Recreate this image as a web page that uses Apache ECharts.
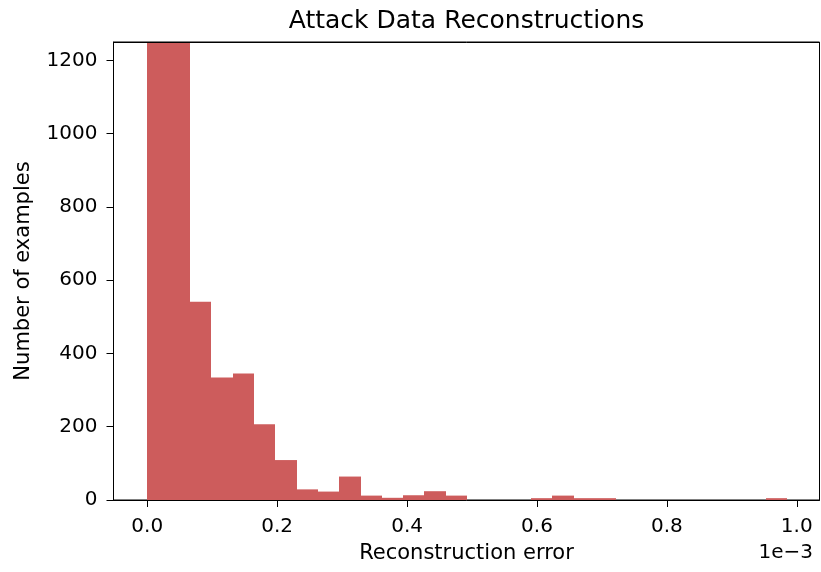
<!DOCTYPE html>
<html>
<head>
<meta charset="utf-8">
<script src="https://cdn.jsdelivr.net/npm/echarts@6/dist/echarts.min.js"></script>
<style>
  html, body { margin: 0; padding: 0; background: #fff; }
  #chart { width: 821px; height: 572px; }
</style>
</head>
<body>
<div id="chart"></div>
<script>
// Histogram bin edges (units of 1e-3)
const binEdges = [0, 0.0328, 0.0657, 0.0985, 0.1313, 0.1642, 0.1970, 0.2298, 0.2627, 0.2955,
  0.3283, 0.3612, 0.3940, 0.4268, 0.4597, 0.4925, 0.5253, 0.5582, 0.5910, 0.6238,
  0.6567, 0.6895, 0.7223, 0.7552, 0.7880, 0.8208, 0.8537, 0.8865, 0.9193, 0.9522, 0.9850];
// Counts per bin (first two bars exceed the visible range)
const counts = [1900, 1450, 541, 334, 345, 207, 109, 29, 23, 64,
  12, 6, 13, 24, 12, 0, 0, 0, 5, 12,
  5, 5, 0, 0, 0, 0, 0, 0, 0, 5];
const xTicks = [0.0, 0.2, 0.4, 0.6, 0.8, 1.0];
const yTicks = [0, 200, 400, 600, 800, 1000, 1200];

const data = counts.map((c, i) => [binEdges[i], binEdges[i + 1], c]);

const FONT = 'DejaVu Sans';
const chart = echarts.init(document.getElementById('chart'), null, { renderer: 'canvas' });
chart.setOption({
  backgroundColor: '#fff',
  animation: false,
  title: {
    text: 'Attack Data Reconstructions',
    left: 466.5, top: 9, padding: 0, textAlign: 'center',
    textStyle: { fontFamily: FONT, fontSize: 25, fontWeight: 'normal', color: '#000' }
  },
  grid: { left: 113.5, right: 1.5, top: 42, bottom: 72, containLabel: false,
    show: true, borderColor: '#000', borderWidth: 1, backgroundColor: 'transparent' },
  xAxis: [{
    type: 'value', min: -0.052, max: 1.035, z: 10,
    name: 'Reconstruction error', nameLocation: 'middle', nameGap: 43,
    nameTextStyle: { fontFamily: FONT, fontSize: 21, color: '#000' },
    axisLine: { show: true, onZero: false, lineStyle: { color: '#000', width: 1 } },
    axisTick: { show: true, length: 7, inside: false, customValues: xTicks, lineStyle: { color: '#000' } },
    axisLabel: { show: true, margin: 17, customValues: xTicks, fontFamily: FONT, fontSize: 20, color: '#000',
      formatter: v => v.toFixed(1) },
    splitLine: { show: false }
  }, {
    type: 'value', position: 'top', min: -0.052, max: 1.035, z: 10,
    axisLine: { show: true, onZero: false, lineStyle: { color: '#000', width: 1 } },
    axisTick: { show: false }, axisLabel: { show: false }, splitLine: { show: false }
  }],
  yAxis: [{
    type: 'value', min: 0, max: 1250, z: 10,
    name: 'Number of examples', nameLocation: 'middle', nameGap: 79, nameRotate: 90,
    nameTextStyle: { fontFamily: FONT, fontSize: 21, color: '#000' },
    axisLine: { show: true, onZero: false, lineStyle: { color: '#000', width: 1 } },
    axisTick: { show: true, length: 7, inside: false, customValues: yTicks, lineStyle: { color: '#000' } },
    axisLabel: { show: true, margin: 16, customValues: yTicks, fontFamily: FONT, fontSize: 20, color: '#000',
      formatter: v => String(v) },
    splitLine: { show: false }
  }],
  graphic: [{
    type: 'text', right: 8, top: 543,
    style: { text: '1e\u22123', font: '20px "DejaVu Sans"', fill: '#000' }
  }],
  series: [{
    type: 'custom',
    xAxisIndex: 0, yAxisIndex: 0,
    data: data,
    encode: { x: [0, 1], y: 2 },
    renderItem: function (params, api) {
      const p0 = api.coord([api.value(0), 0]);
      const p1 = api.coord([api.value(1), api.value(2)]);
      const x0 = Math.round(p0[0]), x1 = Math.round(p1[0]);
      const rect = echarts.graphic.clipRectByRect(
        { x: x0, y: p1[1], width: x1 - x0, height: p0[1] - p1[1] },
        { x: params.coordSys.x, y: params.coordSys.y, width: params.coordSys.width, height: params.coordSys.height }
      );
      if (!rect) return null;
      return { type: 'rect', shape: rect, style: { fill: '#CD5C5C' } };
    }
  }]
});
</script>
</body>
</html>
